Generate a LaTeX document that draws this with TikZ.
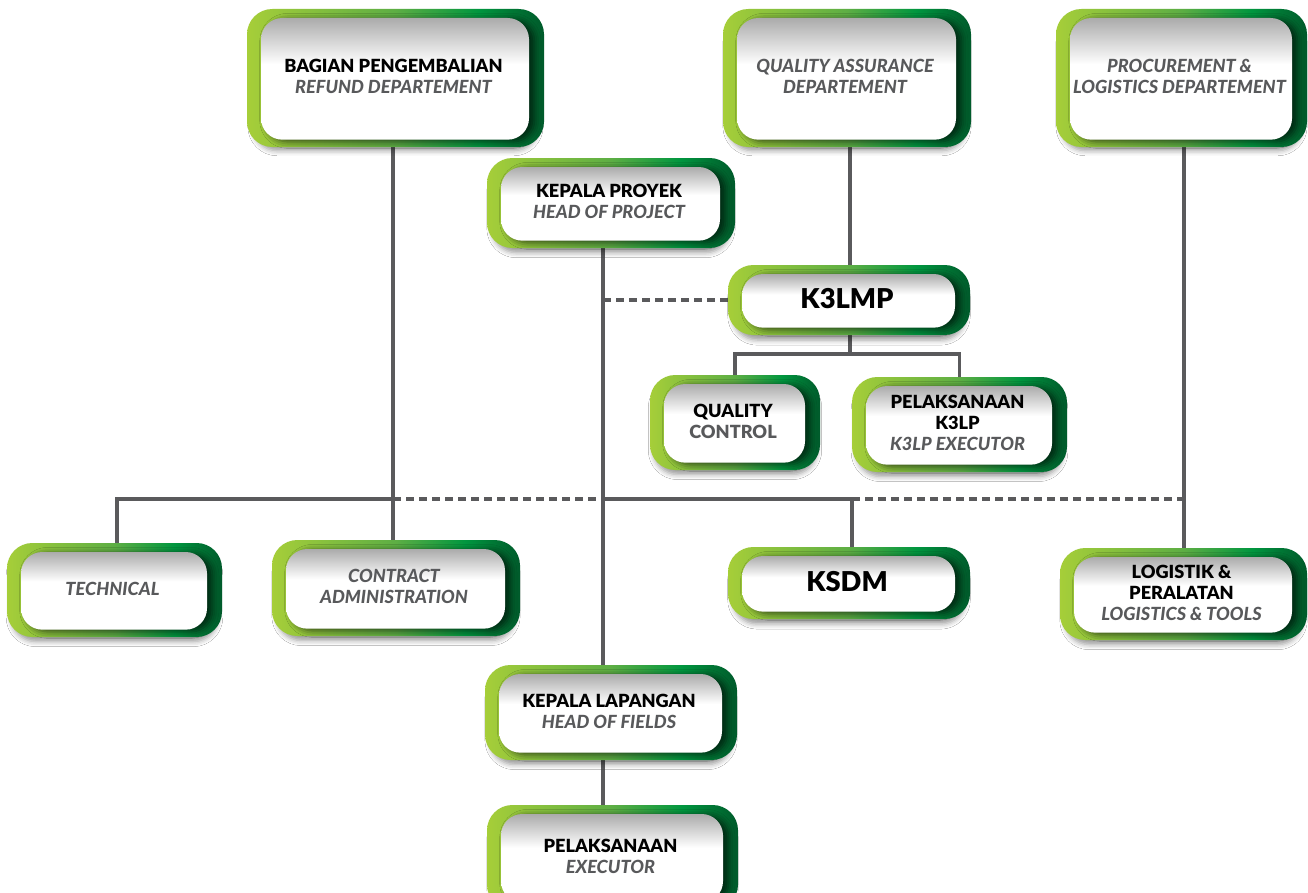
\documentclass[tikz,border=0pt]{standalone}
\usepackage{fontspec}
\setmainfont{Lato}[BoldFont={Lato Black}, BoldItalicFont={Lato Black Italic}]
\usetikzlibrary{shadows.blur}
\definecolor{g1}{HTML}{A6CE39}
\definecolor{g2}{HTML}{5DAE44}
\definecolor{g3}{HTML}{00963F}
\definecolor{g4}{HTML}{005A2B}
\definecolor{lin}{HTML}{5A5A5C}
\definecolor{txg}{HTML}{58595B}
\pgfdeclarehorizontalshading{greenbar}{100bp}{color(0bp)=(g1); color(25bp)=(g1); color(50bp)=(g2); color(64bp)=(g3); color(75bp)=(g4); color(100bp)=(g4)}
\pgfdeclareverticalshading{innersh}{100bp}{color(0bp)=(white); color(56bp)=(white); color(75bp)=(black!33); color(100bp)=(black!33)}
\pgfdeclarelayer{bg}
\pgfsetlayers{bg,main}
\newcommand\engl[1]{{\color{txg}\itshape #1}}
\newcommand\bigtxt{\fontsize{20.5}{22}\selectfont}
\newcommand\obox[6]{%
  \node[outerb, minimum width={(#4-(#2))*0.75pt}, minimum height={(#5-(#3))*0.75pt}] (#1) at ({(#2+#4)/2},{(#3+#5)/2}) {};
  \path[innerb] ([xshift=10.5pt,yshift=-6.75pt]#1.north west) rectangle ([xshift=-11.25pt,yshift=5.5pt]#1.south east);
  \node[boxtext] at ([xshift=-1.5pt,yshift=1pt]#1.center) {#6};
}
\tikzset{
  outerb/.style={rectangle, rounded corners=19pt, inner sep=0pt, outer sep=0pt, shading=greenbar,
    blur shadow={shadow xshift=0pt, shadow yshift=-5pt, shadow scale=0.96, shadow opacity=40, shadow blur radius=4pt}},
  innerb/.style={rounded corners=16pt, shading=innersh,
    blur shadow={shadow xshift=4pt, shadow yshift=-1.5pt, shadow opacity=65, shadow blur radius=5pt}},
  boxtext/.style={align=center, font=\bfseries\fontsize{13.6}{15.75}\selectfont, inner sep=0pt},
  conn/.style={draw=lin, line width=2.3pt},
  dashconn/.style={draw=lin, line width=2.3pt, dash pattern=on 6pt off 3.75pt}
}
\begin{document}
\begin{tikzpicture}[x=0.75pt, y=-0.75pt]
\useasboundingbox (0,0) rectangle (1308,892);

\obox{refund}{247}{9}{544}{147}{BAGIAN PENGEMBALIAN\\\engl{REFUND DEPARTEMENT}}
\obox{qa}{723}{9}{971}{147}{\engl{QUALITY ASSURANCE}\\\engl{DEPARTEMENT}}
\obox{proc}{1056}{9}{1307}{147}{\engl{PROCUREMENT \&}\\\engl{LOGISTICS DEPARTEMENT}}
\obox{proyek}{487}{158}{735}{248}{KEPALA PROYEK\\\engl{HEAD OF PROJECT}}
\obox{k3lmp}{728}{265}{970}{335}{\bigtxt K3LMP}
\obox{qc}{650}{375}{820}{470}{QUALITY\\{\color{txg}CONTROL}}
\obox{k3lp}{852}{377}{1067}{472}{PELAKSANAAN\\K3LP\\\engl{K3LP EXECUTOR}}
\obox{tech}{7}{543}{222}{637}{\engl{TECHNICAL}}
\obox{contract}{272}{540}{520}{636}{\engl{CONTRACT}\\\engl{ADMINISTRATION}}
\obox{ksdm}{728}{547}{970}{619}{\bigtxt KSDM}
\obox{logis}{1060}{548}{1307}{640}{LOGISTIK \&\\PERALATAN\\\engl{LOGISTICS \& TOOLS}}
\obox{lap}{485}{665}{737}{760}{KEPALA LAPANGAN\\\engl{HEAD OF FIELDS}}
\obox{exec}{487}{805}{738}{910}{PELAKSANAAN\\\engl{EXECUTOR}}

\coordinate (c1) at (117,0);
\coordinate (c2) at (393,0);
\coordinate (c3) at (603,0);
\coordinate (c4) at (850,0);
\coordinate (c5) at (852,0);
\coordinate (c6) at (1184,0);
\coordinate (bus) at (0,499);
\coordinate (kb) at (850,354);

\begin{pgfonlayer}{bg}
\fill[white] (0,0) rectangle (1308,892);
\draw[conn] (refund.south -| c2) -- (contract.north -| c2);
\draw[conn] (tech.north -| c1) |- (bus -| c2);
\draw[dashconn] (bus -| c2) -- (bus -| c3);
\draw[conn] (bus -| c3) -| (ksdm.north -| c5);
\draw[dashconn] (bus -| c5) -- (bus -| c6);
\draw[conn] (proc.south -| c6) -- (logis.north -| c6);
\draw[conn] (proyek.south -| c3) -- (lap.north -| c3);
\draw[conn] (lap.south -| c3) -- (exec.north -| c3);
\draw[dashconn] (k3lmp.west -| c3) -- (k3lmp.west);
\draw[conn] (qa.south -| c4) -- (k3lmp.north -| c4);
\draw[conn] (k3lmp.south -| c4) -- (kb);
\draw[conn] (qc.north) |- (kb) -| (k3lp.north);
\end{pgfonlayer}
\end{tikzpicture}
\end{document}
